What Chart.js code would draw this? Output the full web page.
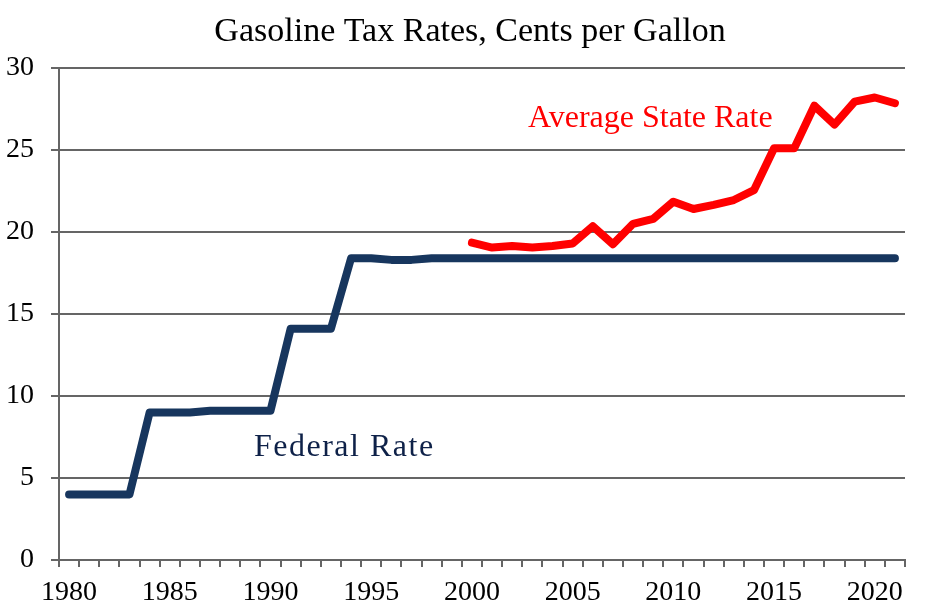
<!DOCTYPE html>
<html>
<head>
<meta charset="utf-8">
<script src="https://cdn.jsdelivr.net/npm/chart.js@4"></script>
<style>
  html, body { margin: 0; padding: 0; background: #fff; }
  #wrap { width: 927px; height: 615px; }
</style>
</head>
<body>
<div id="wrap"><canvas id="gasChart" width="927" height="615"></canvas></div>
<script>
// years on the x axis
const years = [];
for (let y = 1980; y <= 2021; y++) years.push(String(y));

// federal rate, cents per gallon, 1980-2021
const federalRate = [4, 4, 4, 4, 9, 9, 9, 9.1, 9.1, 9.1, 9.1, 14.1, 14.1, 14.1,
  18.4, 18.4, 18.3, 18.3, 18.4, 18.4, 18.4, 18.4, 18.4, 18.4, 18.4, 18.4,
  18.4, 18.4, 18.4, 18.4, 18.4, 18.4, 18.4, 18.4, 18.4, 18.4, 18.4, 18.4,
  18.4, 18.4, 18.4, 18.4];

// average state rate, 2000-2021 (nothing before 2000)
const stateRate = [null, null, null, null, null, null, null, null, null, null,
  null, null, null, null, null, null, null, null, null, null,
  19.35, 19.05, 19.15, 19.05, 19.15, 19.3, 20.35, 19.25, 20.5, 20.8,
  21.85, 21.4, 21.65, 21.95, 22.55, 25.1, 25.1, 27.7, 26.55, 27.95, 28.2, 27.85];

const yTicks = [0, 5, 10, 15, 20, 25, 30];

const serif = '"Liberation Serif", "Times New Roman", serif';
const gridGray = '#656565';

// title and the two line labels
const labelsPlugin = {
    id: 'labels',
    afterDraw(chart) {
        const ctx = chart.ctx;
        ctx.save();
        ctx.textBaseline = 'alphabetic';
        ctx.textAlign = 'center';
        ctx.fillStyle = '#000';
        ctx.font = '34px ' + serif;
        ctx.fillText('Gasoline Tax Rates, Cents per Gallon', 470, 41);

        ctx.textAlign = 'left';
        ctx.fillStyle = '#ff0000';
        ctx.font = '32px ' + serif;
        ctx.fillText('Average State Rate', 528, 127);

        ctx.fillStyle = '#0e2148';
        ctx.font = '32px ' + serif;
        ctx.letterSpacing = '1.5px';
        ctx.fillText('Federal Rate', 254, 456);
        ctx.restore();
    }
};

const ctx = document.getElementById('gasChart').getContext('2d');
new Chart(ctx, {
    type: 'line',
    data: {
        labels: years,
        datasets: [{
            label: 'Federal Rate',
            data: federalRate,
            borderColor: '#17365e',
            borderWidth: 8,
            borderCapStyle: 'round',
            borderJoinStyle: 'round',
            pointRadius: 0,
            tension: 0,
            fill: false
        }, {
            label: 'Average State Rate',
            data: stateRate,
            borderColor: '#ff0000',
            borderWidth: 8,
            borderCapStyle: 'round',
            borderJoinStyle: 'round',
            pointRadius: 0,
            tension: 0,
            fill: false,
            spanGaps: false
        }]
    },
    options: {
        responsive: false,
        animation: false,
        layout: { padding: { top: 68, right: 22, left: 0, bottom: 0 } },
        plugins: {
            legend: { display: false },
            title: { display: false },
            tooltip: { enabled: false }
        },
        scales: {
            x: {
                type: 'category',
                offset: true,
                afterFit: function(scale) { scale.height = 55; },
                grid: {
                    offset: true,
                    drawOnChartArea: false,
                    drawTicks: true,
                    tickLength: 7,
                    color: gridGray,
                    lineWidth: 2
                },
                border: { display: true, color: gridGray, width: 2 },
                ticks: {
                    autoSkip: false,
                    maxRotation: 0,
                    padding: 9,
                    color: '#000',
                    font: { family: serif, size: 28 },
                    callback: function(val, i) {
                        const yr = Number(years[i]);
                        return yr % 5 === 0 ? String(yr) : '';
                    }
                }
            },
            y: {
                min: 0,
                max: 30,
                afterFit: function(scale) { scale.width = 59; },
                afterBuildTicks: function(scale) {
                    scale.ticks = yTicks.map(v => ({ value: v }));
                },
                grid: {
                    color: gridGray,
                    lineWidth: 2,
                    drawTicks: true,
                    tickLength: 8
                },
                border: { display: true, color: gridGray, width: 2 },
                ticks: {
                    padding: 17,
                    color: '#000',
                    font: { family: serif, size: 28 }
                }
            }
        }
    },
    plugins: [labelsPlugin]
});
</script>
</body>
</html>
